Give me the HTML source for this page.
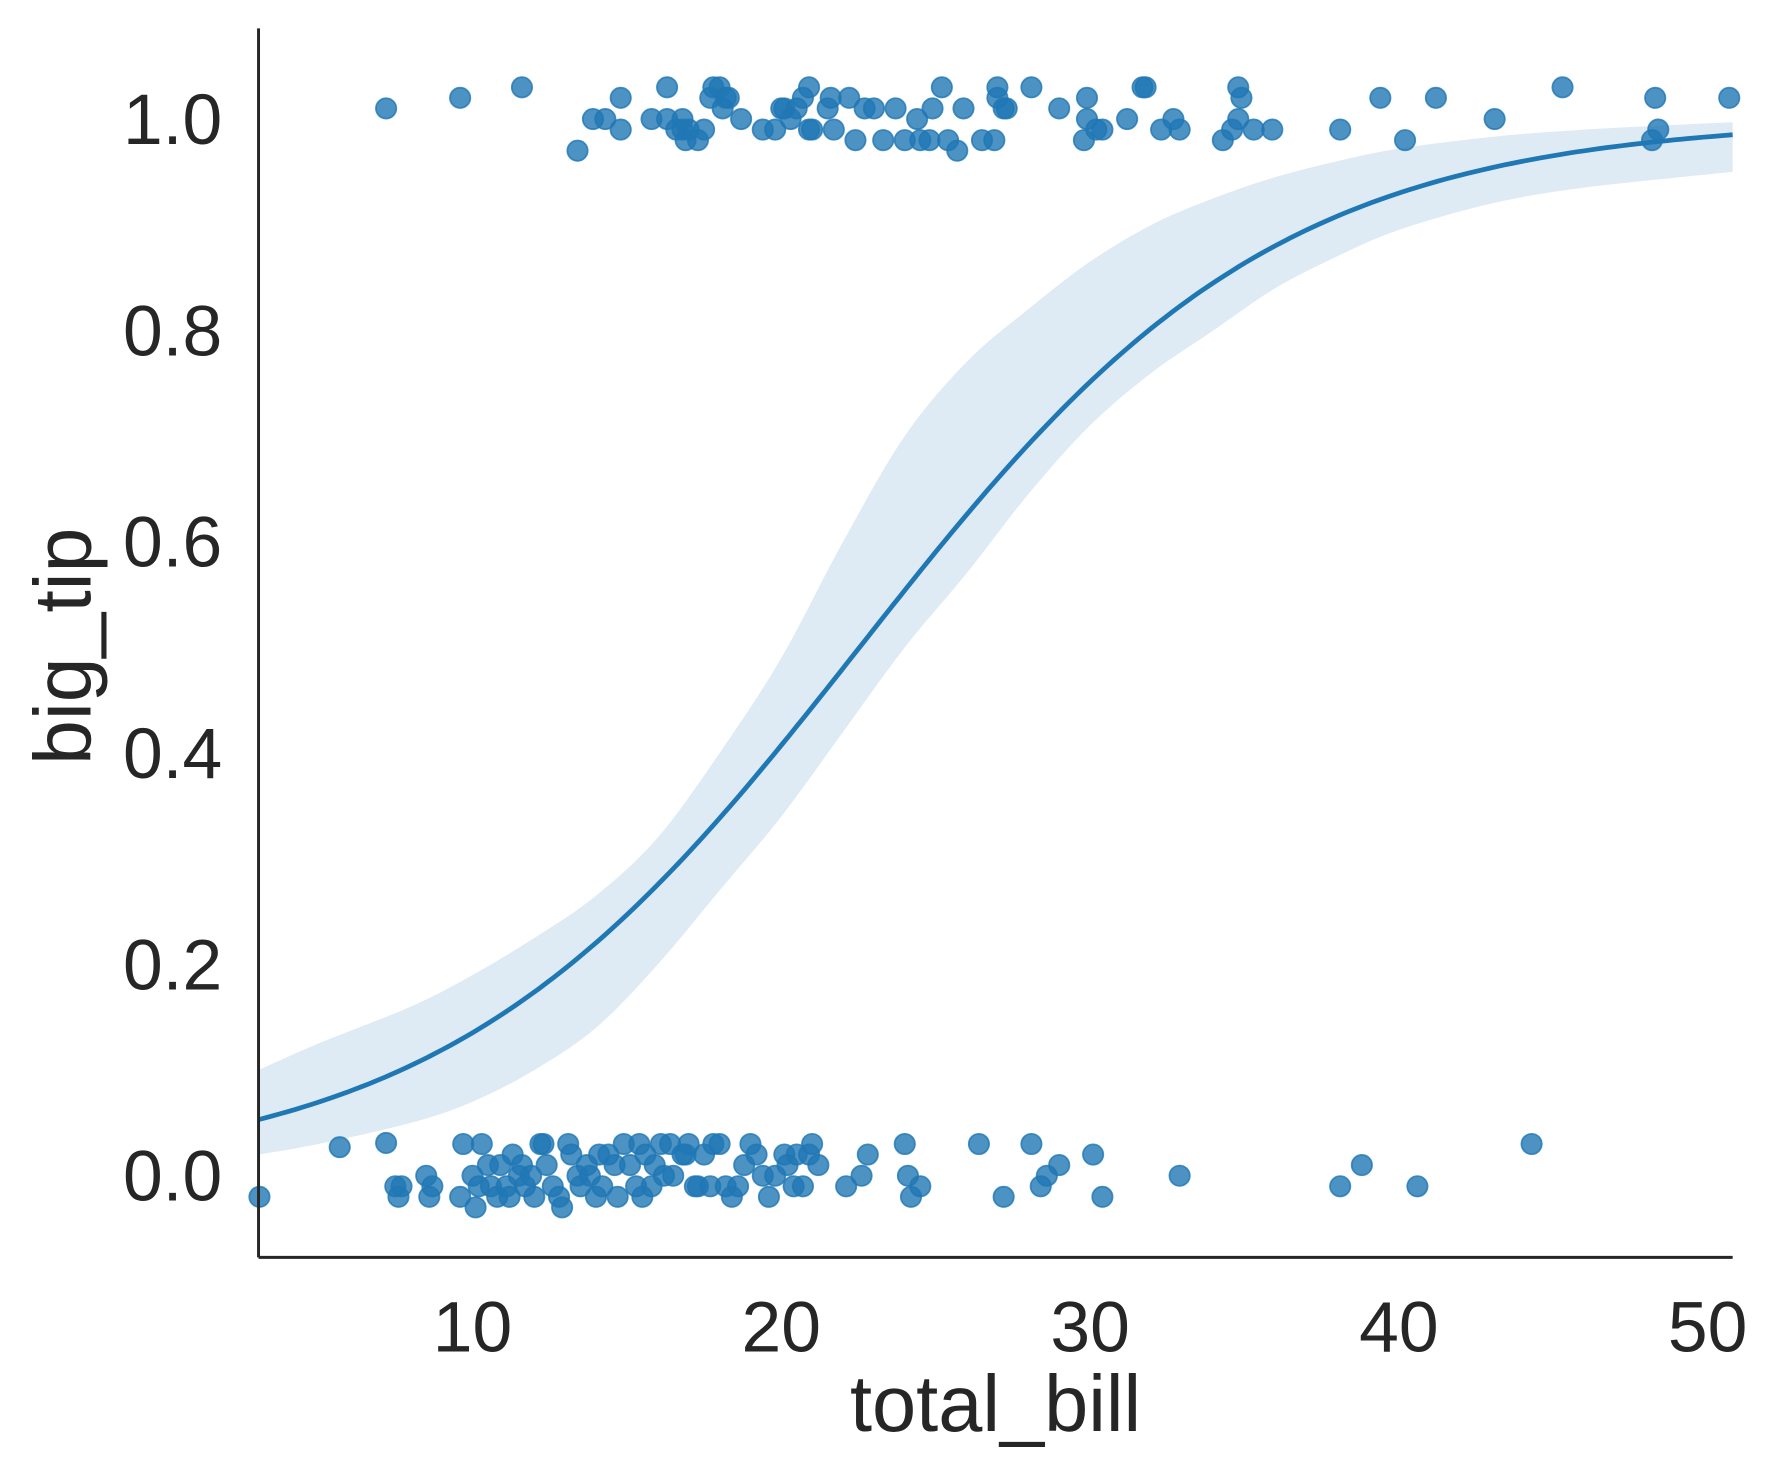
<!DOCTYPE html>
<html><head><meta charset="utf-8"><style>
html,body{margin:0;padding:0;background:#fff;}
svg{display:block;}
text{font-family:"Liberation Sans",Arial,sans-serif;fill:#262626;}
</style></head><body>
<svg id="chart" width="1778" height="1483" viewBox="0 0 1568 1308" preserveAspectRatio="none" xmlns="http://www.w3.org/2000/svg">
<g id="band"></g>
<g id="pts"></g>
<g id="line"></g>
<g id="axes"></g>
</svg>
<script>
const xTicks = [10, 20, 30, 40, 50];
const yTicks = [0.0, 0.2, 0.4, 0.6, 0.8, 1.0];
const yTickLabels = ["0.0", "0.2", "0.4", "0.6", "0.8", "1.0"];
const bandX = [3.07, 5, 8, 10, 12, 14, 16, 18, 20, 22, 24, 26, 28, 30, 32, 34, 36, 38, 40, 43, 46, 50.81];
const bandUpper = [0.10, 0.125, 0.16, 0.19, 0.225, 0.265, 0.32, 0.40, 0.49, 0.60, 0.70, 0.77, 0.82, 0.865, 0.90, 0.925, 0.945, 0.96, 0.972, 0.983, 0.99, 0.997];
const bandLower = [0.02, 0.03, 0.05, 0.07, 0.10, 0.14, 0.20, 0.27, 0.34, 0.42, 0.50, 0.57, 0.645, 0.71, 0.76, 0.80, 0.84, 0.87, 0.895, 0.92, 0.935, 0.95];
const fitIntercept = -3.335;
const fitSlope = 0.148;
const topX = [7.2,9.6,11.6,13.4,13.9,14.3,14.8,14.8,15.8,16.3,16.3,16.6,16.8,16.9,17.0,17.3,17.5,16.8,17.7,17.8,18.0,18.2,18.1,18.3,18.7,19.4,19.8,20.0,20.1,20.3,20.5,20.7,20.9,20.9,21.0,21.5,21.6,21.7,22.2,22.4,22.7,23.0,23.3,23.7,24.0,24.4,24.5,24.8,24.9,25.2,25.4,25.7,25.9,26.5,26.9,27.0,27.0,27.2,27.3,28.1,29.0,29.8,29.9,29.9,30.2,30.4,31.2,31.7,31.8,32.3,32.7,32.9,34.3,34.6,34.8,34.8,34.9,35.3,35.9,38.1,39.4,40.2,41.2,43.1,45.3,48.2,48.3,48.4,50.7];
const topY = [1.01,1.02,1.03,0.97,1.00,1.00,0.99,1.02,1.00,1.03,1.00,0.99,0.99,0.98,0.99,0.98,0.99,1.00,1.02,1.03,1.03,1.02,1.01,1.02,1.00,0.99,0.99,1.01,1.01,1.00,1.01,1.02,1.03,0.99,0.99,1.01,1.02,0.99,1.02,0.98,1.01,1.01,0.98,1.01,0.98,1.00,0.98,0.98,1.01,1.03,0.98,0.97,1.01,0.98,0.98,1.02,1.03,1.01,1.01,1.03,1.01,0.98,1.00,1.02,0.99,0.99,1.00,1.03,1.03,0.99,1.00,0.99,0.98,0.99,1.00,1.03,1.02,0.99,0.99,0.99,1.02,0.98,1.02,1.00,1.03,0.98,1.02,0.99,1.02];
const botX = [3.1,5.7,7.2,7.5,7.6,7.7,8.5,8.6,8.7,9.6,9.7,10.0,10.1,10.2,10.3,10.5,10.6,10.8,10.9,11.1,11.2,11.3,11.5,11.6,11.7,11.9,12.0,12.2,12.3,12.4,12.6,12.8,12.9,13.1,13.2,13.4,13.5,13.7,13.8,14.0,14.1,14.2,14.4,14.6,14.7,14.9,15.1,15.3,15.4,15.5,15.6,15.8,15.9,16.1,16.2,16.4,16.5,16.8,16.9,17.0,17.2,17.3,17.5,17.7,17.8,18.0,18.2,18.4,18.6,18.8,19.0,19.2,19.4,19.6,19.8,20.1,20.2,20.4,20.5,20.7,20.9,21.0,21.2,22.1,22.6,22.8,24.0,24.1,24.2,24.5,26.4,27.2,28.1,28.4,28.6,29.0,30.1,30.4,32.9,38.1,38.8,40.6,44.3];
const botY = [-0.02,0.027,0.031,-0.01,-0.02,-0.01,0.00,-0.02,-0.01,-0.02,0.03,0.00,-0.03,-0.01,0.03,0.01,-0.01,-0.02,0.01,-0.01,-0.02,0.02,0.00,0.01,-0.01,0.00,-0.02,0.03,0.03,0.01,-0.01,-0.02,-0.03,0.03,0.02,0.00,-0.01,0.01,0.00,-0.02,0.02,-0.01,0.02,0.01,-0.02,0.03,0.01,-0.01,0.03,-0.02,0.02,-0.01,0.01,0.03,0.00,0.03,0.00,0.02,0.02,0.03,-0.01,-0.01,0.02,-0.01,0.03,0.03,-0.01,-0.02,-0.01,0.01,0.03,0.02,0.00,-0.02,0.00,0.02,0.01,-0.01,0.02,-0.01,0.02,0.03,0.01,-0.01,0.00,0.02,0.03,0.00,-0.02,-0.01,0.03,-0.02,0.03,-0.01,0.00,0.01,0.02,-0.02,0.00,-0.01,0.01,-0.01,0.03];

const NS = "http://www.w3.org/2000/svg";
const L = 228, R = 1528, T = 25, B = 1109;
const xMin = 3.07, xMax = 50.81;
const yMin = -0.0773, yMax = 1.0858;
function sx(v){ return L + (v - xMin) / (xMax - xMin) * (R - L); }
function sy(v){ return B - (v - yMin) / (yMax - yMin) * (B - T); }
function mk(tag, attrs, parent){ const e = document.createElementNS(NS, tag); for (const k in attrs) e.setAttribute(k, attrs[k]); parent.appendChild(e); return e; }
function smooth(P, first){
  let s = (first ? "M" : "L") + P[0][0].toFixed(1) + "," + P[0][1].toFixed(1);
  for (let i = 0; i < P.length - 1; i++){
    const p0 = P[Math.max(0,i-1)], p1 = P[i], p2 = P[i+1], p3 = P[Math.min(P.length-1,i+2)];
    const c1 = [p1[0] + (p2[0]-p0[0])/6, p1[1] + (p2[1]-p0[1])/6];
    const c2 = [p2[0] - (p3[0]-p1[0])/6, p2[1] - (p3[1]-p1[1])/6];
    s += "C" + c1[0].toFixed(1) + "," + c1[1].toFixed(1) + " " + c2[0].toFixed(1) + "," + c2[1].toFixed(1) + " " + p2[0].toFixed(1) + "," + p2[1].toFixed(1);
  }
  return s;
}

// band
const up = bandX.map((x,i)=>[sx(x), sy(bandUpper[i])]);
const lo = bandX.map((x,i)=>[sx(x), sy(bandLower[i])]).reverse();
const band = mk("path", {d: smooth(up, true) + smooth(lo, false) + "Z", fill: "#1f77b4", "fill-opacity": "0.15", stroke: "none"}, document.getElementById("band"));



// points
const pg = document.getElementById("pts");
function addPts(xs, ys, nm){
  xs.forEach((x,i)=>{
    const c = mk("circle", {cx: sx(x).toFixed(1), cy: sy(ys[i]).toFixed(1), r: 9, fill: "#1f77b4", "fill-opacity": "0.8", stroke: "#1f77b4", "stroke-opacity": "0.8", "stroke-width": "1.5"}, pg);
    
    
  });
}
addPts(topX, topY, 'point-big-tip');
addPts(botX, botY, 'point-small-tip');

// line
let ld = "";
for (let i = 0; i <= 200; i++){
  const x = xMin + (xMax - xMin) * i / 200;
  const p = 1 / (1 + Math.exp(-(fitIntercept + fitSlope * x)));
  ld += (i? "L":"M") + sx(x).toFixed(1) + "," + sy(p).toFixed(1);
}
const ln = mk("path", {d: ld, fill: "none", stroke: "#1f77b4", "stroke-width": "4.2"}, document.getElementById("line"));



// axes
const ax = document.getElementById("axes");
const ys = mk("line", {x1: L, y1: T, x2: L, y2: B, stroke: "#262626", "stroke-width": "2.6"}, ax);


const xs = mk("line", {x1: L, y1: B, x2: R, y2: B, stroke: "#262626", "stroke-width": "2.6"}, ax);


xTicks.forEach(v=>{
  const t = mk("text", {x: sx(v), y: 1192, "text-anchor": "middle", "font-size": "63"}, ax);
  t.textContent = String(v);
  
  
});
yTicks.forEach((v,i)=>{
  const t = mk("text", {x: 196, y: sy(v) + 22, "text-anchor": "end", "font-size": "63"}, ax);
  t.textContent = yTickLabels[i];
  
  
});
const xl = mk("text", {x: (L+R)/2, y: 1262, "text-anchor": "middle", "font-size": "70"}, ax);
xl.textContent = "total_bill";


const yl = mk("text", {x: 0, y: 0, "text-anchor": "middle", "font-size": "71", transform: "translate(80,570) rotate(-90)"}, ax);
yl.textContent = "big_tip";


</script>
</body></html>
